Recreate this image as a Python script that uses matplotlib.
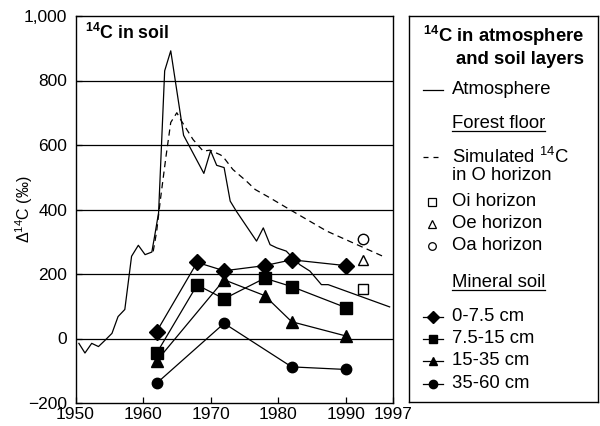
import numpy as np
import matplotlib
matplotlib.use("Agg")
import matplotlib.pyplot as plt
import matplotlib.ticker as mticker

plt.rcParams.update({
    "font.family": ["Liberation Sans", "DejaVu Sans"],
    "mathtext.default": "regular",
    "font.size": 13.3,
    "axes.linewidth": 1.0,
})

# ── Data ─────────────────────────────────────────────────
ATM_YEAR = [1950.5, 1951.4, 1952.4, 1953.4, 1954.4, 1955.4, 1956.3, 1957.3, 1958.3,
            1959.3, 1960.3, 1961.3, 1961.8, 1962.3, 1963.2, 1964.1, 1966.0, 1969.0,
            1970.0, 1970.9, 1972.0, 1972.9, 1973.8, 1976.8, 1977.8, 1978.8, 1979.8,
            1981.2, 1981.7, 1983.2, 1984.7, 1986.4, 1987.4, 1996.5]
ATM_D14C = [-15, -45, -15, -25, -5, 16, 68, 90, 255,
            289, 260, 268, 328, 390, 830, 892, 630, 512,
            582, 537, 530, 426, 395, 302, 343, 291, 281,
            271, 260, 229, 209, 167, 167, 98]

SIM_YEAR = [1961.5, 1962.0, 1962.6, 1963.4, 1964.1, 1965.0, 1965.7, 1967.4, 1968.9,
            1969.9, 1971.4, 1971.8, 1973.3, 1975.3, 1976.6, 1978.8, 1981.7, 1987.2, 1995.5]
SIM_D14C = [270, 330, 436, 565, 670, 700, 674, 617, 581,
            584, 570, 565, 524, 488, 462, 436, 400, 333, 255]

# forest floor horizons (sampled once)
O_YEAR = 1992.5
OI_D14C = 153
OE_D14C = 242
OA_D14C = 309

# mineral soil layers
D1_YEAR = [1962, 1968, 1972, 1978, 1982, 1990]
D1_D14C = [21, 236, 210, 226, 244, 226]      # 0-7.5 cm
D2_YEAR = [1962, 1968, 1972, 1978, 1982, 1990]
D2_D14C = [-46, 166, 123, 187, 161, 96]      # 7.5-15 cm
D3_YEAR = [1962, 1972, 1978, 1982, 1990]
D3_D14C = [-70, 182, 133, 52, 8]             # 15-35 cm
D4_YEAR = [1962, 1972, 1982, 1990]
D4_D14C = [-139, 47, -88, -96]               # 35-60 cm

X_TICKS = [1950, 1960, 1970, 1980, 1990, 1997]
Y_TICKS = [-200, 0, 200, 400, 600, 800, 1000]

W, H = 600, 426
fig = plt.figure(figsize=(W / 100, H / 100), dpi=100)

def px_axes(x0, y0, x1, y1):
    return fig.add_axes([x0 / W, 1 - y1 / H, (x1 - x0) / W, (y1 - y0) / H])

# ── Main panel ───────────────────────────────────────────
ax = px_axes(75.5, 16, 393, 403)
for y in Y_TICKS[1:-1]:
    ax.axhline(y, color="black", lw=0.9, zorder=1)

ax.plot(ATM_YEAR, ATM_D14C, color="black", lw=0.9, zorder=2)
ax.plot(SIM_YEAR, SIM_D14C, color="black", lw=0.9, dashes=(5, 3.5), zorder=2)

mk = dict(color="black", lw=0.9, zorder=3)
ax.plot(D1_YEAR, D1_D14C, marker="D", ms=8, **mk)
ax.plot(D2_YEAR, D2_D14C, marker="s", ms=8, **mk)
ax.plot(D3_YEAR, D3_D14C, marker="^", ms=8, **mk)
ax.plot(D4_YEAR, D4_D14C, marker="o", ms=7.5, **mk)

om = dict(ls="none", mfc="white", mec="black", mew=1.0, ms=7.5, zorder=3)
ax.plot([O_YEAR], [OI_D14C], marker="s", **om)
ax.plot([O_YEAR], [OE_D14C], marker="^", **om)
ax.plot([O_YEAR], [OA_D14C], marker="o", **om)

ax.set_xlim(1950, 1997)
ax.set_ylim(-200, 1000)
ax.set_xticks(X_TICKS)
ax.set_yticks(Y_TICKS)
ax.yaxis.set_major_formatter(mticker.FuncFormatter(
    lambda v, _: f"{v:,.0f}".replace("-", "\u2212")))
ax.tick_params(direction="in", length=4, width=0.9, labelsize=12.5, pad=3)
ax.tick_params(axis="y", pad=6)
ax.set_ylabel("Δ$^{14}$C (‰)", fontsize=11.5)
ax.yaxis.set_label_coords(-0.127, 0.5)

ax.text(0.03, 0.956, "$^{14}$C in soil", transform=ax.transAxes,
        fontsize=12.8, fontweight="bold", va="center", ha="left")

# ── Legend panel (drawn in pixel coordinates) ────────────
lg = px_axes(409, 16, 598, 402)
lg.set_xlim(409, 598)
lg.set_ylim(402, 16)
lg.set_xticks([]); lg.set_yticks([])

tx = 452
lg.text(584, 36, "$^{14}$C in atmosphere", fontweight="bold", ha="right", va="center")
lg.text(584, 60, "and soil layers", fontweight="bold", ha="right", va="center")

lg.plot([423, 443], [90, 90], color="black", lw=0.9)
lg.text(tx, 90, "Atmosphere", va="center")

t_ff = lg.text(tx, 124, "Forest floor", va="center")

lg.plot([423, 443], [157, 157], color="black", lw=0.9, dashes=(4, 4))
lg.text(tx, 157, "Simulated $^{14}$C", va="center")
lg.text(tx, 176, "in O horizon", va="center")

lo = dict(ls="none", mfc="white", mec="black", mew=0.9, ms=5.5)
lg.plot([432], [202], marker="s", **lo)
lg.text(tx, 202, "Oi horizon", va="center")
lg.plot([432], [224], marker="^", **lo)
lg.text(tx, 224, "Oe horizon", va="center")
lg.plot([432], [246], marker="o", **lo)
lg.text(tx, 246, "Oa horizon", va="center")

t_ms = lg.text(tx, 283, "Mineral soil", va="center")

for y, m, lab in [(317, "D", "0-7.5 cm"), (339, "s", "7.5-15 cm"),
                  (361, "^", "15-35 cm"), (384, "o", "35-60 cm")]:
    lg.plot([423, 443], [y, y], color="black", lw=0.9)
    lg.plot([433], [y], color="black", marker=m, ms=6, ls="none")
    lg.text(tx, y, lab, va="center")

# underline the two section headings
fig.canvas.draw()
r = fig.canvas.get_renderer()
inv = lg.transData.inverted()
for t in (t_ff, t_ms):
    bb = t.get_window_extent(r)
    (x0, y0), (x1, _) = inv.transform([(bb.x0, bb.y0), (bb.x1, bb.y1)])
    lg.plot([x0, x1], [y0 - 1, y0 - 1], color="black", lw=0.9)

fig.savefig("out.png", dpi=100)
